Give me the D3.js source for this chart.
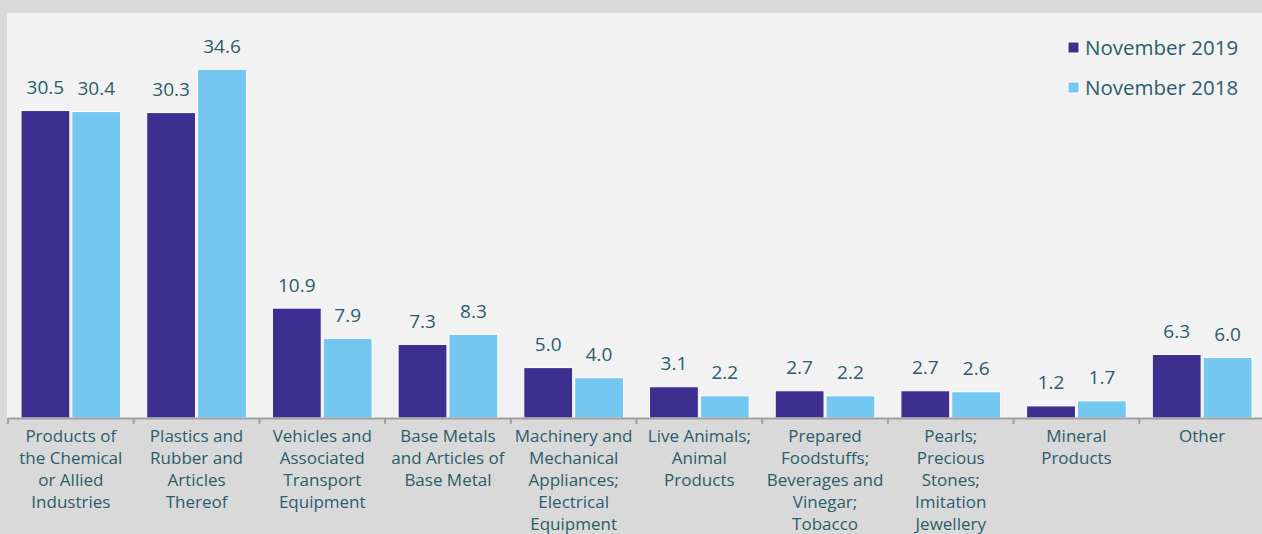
<!DOCTYPE html>
<html>
<head>
<meta charset="utf-8">
<script src="https://cdn.jsdelivr.net/npm/d3@7"></script>
<style>
  html, body { margin: 0; padding: 0; background: #d9d9d9; }
  svg { display: block; }
  text { font-family: "Open Sans", sans-serif; }
</style>
</head>
<body>
<svg id="chart" width="1262" height="534"></svg>
<script>
const categories = [
  "Products of the Chemical or Allied Industries",
  "Plastics and Rubber and Articles Thereof",
  "Vehicles and Associated Transport Equipment",
  "Base Metals and Articles of Base Metal",
  "Machinery and Mechanical Appliances; Electrical Equipment",
  "Live Animals; Animal Products",
  "Prepared Foodstuffs; Beverages and Vinegar; Tobacco",
  "Pearls; Precious Stones; Imitation Jewellery",
  "Mineral Products",
  "Other"
];
const categoryLines = [
  ["Products of", "the Chemical", "or Allied", "Industries"],
  ["Plastics and", "Rubber and", "Articles", "Thereof"],
  ["Vehicles and", "Associated", "Transport", "Equipment"],
  ["Base Metals", "and Articles of", "Base Metal"],
  ["Machinery and", "Mechanical", "Appliances;", "Electrical", "Equipment"],
  ["Live Animals;", "Animal", "Products"],
  ["Prepared", "Foodstuffs;", "Beverages and", "Vinegar;", "Tobacco"],
  ["Pearls;", "Precious", "Stones;", "Imitation", "Jewellery"],
  ["Mineral", "Products"],
  ["Other"]
];
const seriesNames = ["November 2019", "November 2018"];
const nov2019 = [30.5, 30.3, 10.9, 7.3, 5.0, 3.1, 2.7, 2.7, 1.2, 6.3];
const nov2018 = [30.4, 34.6, 7.9, 8.3, 4.0, 2.2, 2.2, 2.6, 1.7, 6.0];
const seriesValues = [nov2019, nov2018];
const colors = ["#3c2f8f", "#73c7f0"];
const textColor = "#2a5d6b";

const svg = d3.select("#chart");
const W = 1262, H = 534;

// plot panel
svg.append("rect").attr("x", 7).attr("y", 13).attr("width", W - 7).attr("height", 418 - 13)
  .attr("fill", "#f2f2f2");

const x0 = d3.scaleBand().domain(categories).range([8, 1265]).paddingInner(0).paddingOuter(0);
const bw = x0.bandwidth();
const x1 = d3.scaleBand().domain(seriesNames).range([13, bw - 13]).paddingInner(0.04);
const y = d3.scaleLinear().domain([0, 40]).range([418, 14.8]);

const groups = svg.append("g").selectAll("g").data(categories).join("g")
  .attr("transform", d => `translate(${x0(d)},0)`);

groups.each(function(cat, i) {
  const g = d3.select(this);
  seriesNames.forEach((s, si) => {
    const v = seriesValues[si][i];
    g.append("rect")
      .attr("x", x1(s)).attr("width", x1.bandwidth())
      .attr("y", y(v)).attr("height", y(0) - y(v))
      .attr("fill", colors[si])
      .attr("stroke", "#ffffff").attr("stroke-width", 1);
    g.append("text")
      .attr("x", x1(s) + x1.bandwidth() / 2)
      .attr("y", y(v) - 16.5)
      .attr("text-anchor", "middle")
      .attr("font-size", 19)
      .attr("fill", textColor)
      .text(d3.format(".1f")(v));
  });
});

// x axis
const xAxis = d3.axisBottom(x0).tickSize(0).tickFormat("");
const ax = svg.append("g").attr("transform", "translate(0,418)").call(xAxis);
ax.select(".domain").attr("stroke", "#a0a0a0").attr("stroke-width", 2);
// tick marks at band boundaries
const bounds = categories.map(c => x0(c));
ax.selectAll(".bound").data(bounds).join("line").attr("class", "bound")
  .attr("x1", d => d).attr("x2", d => d).attr("y1", 0).attr("y2", 6)
  .attr("stroke", "#a0a0a0").attr("stroke-width", 2);

// category labels
const lab = svg.append("g").selectAll("text").data(categories).join("text")
  .attr("x", d => x0(d) + bw / 2)
  .attr("y", 442)
  .attr("text-anchor", "middle")
  .attr("font-size", 17)
  .attr("fill", textColor);
lab.each(function(d, i) {
  d3.select(this).selectAll("tspan").data(categoryLines[i]).join("tspan")
    .attr("x", x0(d) + bw / 2)
    .attr("dy", (l, j) => j === 0 ? 0 : 22)
    .text(l => l);
});

// legend
const leg = svg.append("g").selectAll("g").data(seriesNames).join("g")
  .attr("transform", (d, i) => `translate(1068,${42 + i * 40})`);
leg.append("rect").attr("width", 11).attr("height", 11)
  .attr("fill", (d, i) => colors[i]).attr("stroke", "#ffffff").attr("stroke-width", 1);
leg.append("text").attr("x", 17).attr("y", 13).attr("font-size", 20.5)
  .attr("fill", textColor).text(d => d);
</script>
</body>
</html>
